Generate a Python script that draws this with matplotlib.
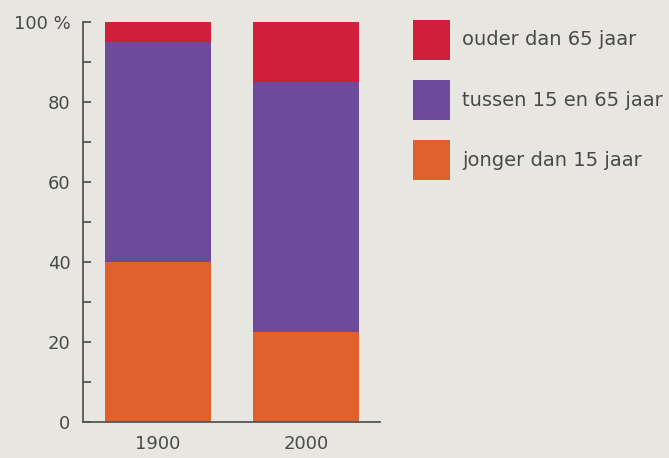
import numpy as np
import matplotlib.pyplot as plt

years = ["1900", "2000"]
jonger = [40, 22.5]
tussen = [55, 62.5]
ouder = [5, 15]
labels = ["jonger dan 15 jaar", "tussen 15 en 65 jaar", "ouder dan 65 jaar"]
colors = ["#e0612b", "#6d4a9b", "#cf1f3b"]

bg = "#e8e6e1"
txt = "#4a4a4a"

plt.rcParams["font.family"] = ["DejaVu Sans"]

fig = plt.figure(figsize=(6.69, 4.58), dpi=100, facecolor=bg)
ax = fig.add_axes([0.124, 0.0786, 0.444, 0.873])
ax.set_facecolor(bg)

x = np.arange(len(years))
bottom = np.zeros(len(years))
handles = []
for vals, col, lab in zip([jonger, tussen, ouder], colors, labels):
    b = ax.bar(x, vals, bottom=bottom, width=0.72, color=col, label=lab)
    handles.append(b)
    bottom += np.array(vals)

ax.set_xlim(-0.507, 1.5)
ax.set_ylim(0, 100)
ax.set_xticks(x)
ax.set_xticklabels(years)
ax.set_yticks([0, 20, 40, 60, 80, 100])
ax.set_yticklabels(["0", "20", "40", "60", "80", "100 %"])
ax.set_yticks([10, 30, 50, 70, 90], minor=True)
ax.tick_params(axis="y", which="both", direction="in", length=6, width=1.3,
               color="#555555", labelsize=13, labelcolor=txt, pad=9)
ax.tick_params(axis="x", length=0, labelsize=13, labelcolor=txt, pad=9)

for side in ["top", "right"]:
    ax.spines[side].set_visible(False)
for side in ["left", "bottom"]:
    ax.spines[side].set_color("#555555")
    ax.spines[side].set_linewidth(1.3)

leg = fig.legend(handles[::-1], labels[::-1], loc="upper left",
                 bbox_to_anchor=(0.617, 0.957), frameon=False,
                 fontsize=14, labelcolor=txt, borderpad=0, borderaxespad=0,
                 handlelength=1.9, handleheight=2.79, handletextpad=0.65,
                 labelspacing=1.03)

fig.savefig("out.png", dpi=100, facecolor=bg)
